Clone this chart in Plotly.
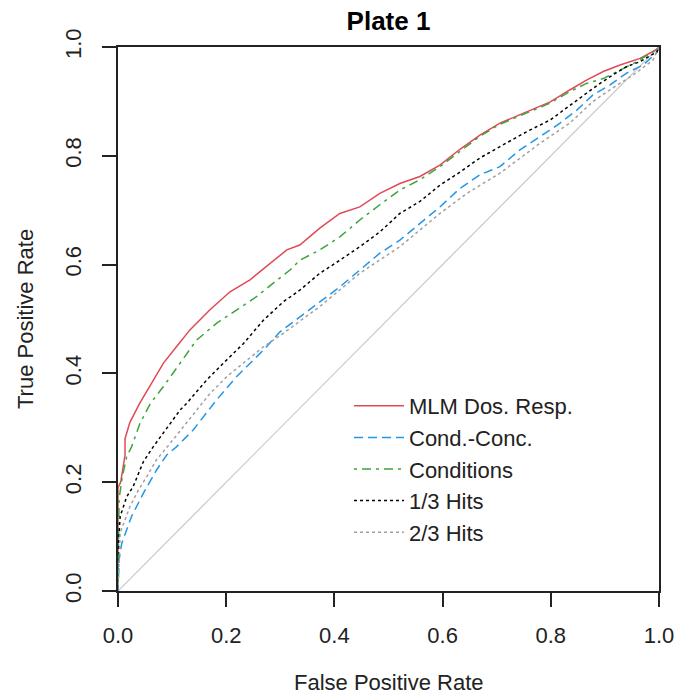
import plotly.graph_objects as go

# ---- data ----
mlm_fpr = [0, 0, 0.005, 0.013, 0.013, 0.022, 0.040, 0.065, 0.084, 0.108, 0.133, 0.170, 0.207, 0.244, 0.281, 0.312,
           0.336, 0.373, 0.410, 0.447, 0.484, 0.521, 0.558, 0.595, 0.632, 0.669, 0.706, 0.755, 0.799, 0.835,
           0.866, 0.897, 0.928, 0.965, 0.993, 1.0]
mlm_tpr = [0, 0.19, 0.20, 0.25, 0.28, 0.31, 0.345, 0.388, 0.419, 0.449, 0.480, 0.517, 0.550, 0.572, 0.602, 0.627,
           0.636, 0.667, 0.694, 0.706, 0.731, 0.749, 0.762, 0.783, 0.812, 0.838, 0.860, 0.881, 0.899, 0.921,
           0.939, 0.955, 0.967, 0.979, 0.994, 1.0]

cc_fpr = [0, 0.002, 0.007, 0.016, 0.025, 0.047, 0.071, 0.090, 0.108, 0.139, 0.164, 0.182, 0.219, 0.244, 0.269,
          0.299, 0.336, 0.373, 0.410, 0.447, 0.484, 0.521, 0.558, 0.595, 0.632, 0.669, 0.706, 0.743, 0.780,
          0.817, 0.848, 0.878, 0.909, 0.940, 0.971, 0.996, 1.0]
cc_tpr = [0, 0.057, 0.088, 0.112, 0.137, 0.180, 0.222, 0.250, 0.265, 0.296, 0.327, 0.351, 0.394, 0.419, 0.443,
          0.476, 0.504, 0.532, 0.559, 0.590, 0.621, 0.645, 0.676, 0.706, 0.740, 0.765, 0.780, 0.811, 0.835,
          0.860, 0.884, 0.912, 0.930, 0.952, 0.967, 0.990, 1.0]

cond_fpr = [0, 0.002, 0.008, 0.016, 0.025, 0.041, 0.060, 0.084, 0.115, 0.145, 0.182, 0.219, 0.256, 0.287, 0.318,
            0.336, 0.373, 0.410, 0.447, 0.484, 0.521, 0.558, 0.595, 0.632, 0.669, 0.706, 0.755, 0.799, 0.835,
            0.866, 0.897, 0.922, 0.953, 0.989, 1.0]
cond_tpr = [0, 0.17, 0.21, 0.247, 0.265, 0.309, 0.345, 0.376, 0.419, 0.461, 0.492, 0.517, 0.541, 0.566, 0.590,
            0.608, 0.627, 0.651, 0.682, 0.710, 0.737, 0.756, 0.780, 0.808, 0.836, 0.858, 0.879, 0.897, 0.918,
            0.933, 0.942, 0.955, 0.970, 0.991, 1.0]

h13_fpr = [0, 0.001, 0.004, 0.016, 0.028, 0.047, 0.065, 0.084, 0.115, 0.127, 0.164, 0.195, 0.232, 0.269, 0.306,
           0.336, 0.373, 0.410, 0.447, 0.484, 0.521, 0.558, 0.595, 0.632, 0.669, 0.706, 0.755, 0.799, 0.835,
           0.866, 0.891, 0.915, 0.940, 0.965, 0.996, 1.0]
h13_tpr = [0, 0.09, 0.137, 0.173, 0.192, 0.238, 0.265, 0.290, 0.333, 0.345, 0.388, 0.419, 0.455, 0.498, 0.532,
           0.553, 0.584, 0.608, 0.633, 0.660, 0.694, 0.716, 0.746, 0.770, 0.796, 0.817, 0.844, 0.866, 0.893,
           0.915, 0.933, 0.949, 0.964, 0.973, 0.991, 1.0]

h23_fpr = [0, 0.002, 0.004, 0.022, 0.038, 0.053, 0.071, 0.096, 0.121, 0.150, 0.170, 0.201, 0.232, 0.269, 0.306,
           0.373, 0.447, 0.521, 0.595, 0.645, 0.706, 0.780, 0.835, 0.878, 0.915, 0.953, 0.989, 1.0]
h23_tpr = [0, 0.07, 0.107, 0.155, 0.186, 0.210, 0.241, 0.271, 0.302, 0.336, 0.363, 0.394, 0.419, 0.449, 0.474,
           0.523, 0.584, 0.633, 0.694, 0.731, 0.768, 0.823, 0.860, 0.900, 0.925, 0.949, 0.976, 1.0]

diag = [0, 1]
tick_vals = [0, 0.2, 0.4, 0.6, 0.8, 1.0]
tick_text = ["0.0", "0.2", "0.4", "0.6", "0.8", "1.0"]

series = [
    ("MLM Dos. Resp.", mlm_fpr, mlm_tpr, "#DF4A56", "solid"),
    ("Cond.-Conc.", cc_fpr, cc_tpr, "#2297E6", "9px,5px"),
    ("Conditions", cond_fpr, cond_tpr, "#3DA33D", "3px,5px,9px,5px"),
    ("1/3 Hits", h13_fpr, h13_tpr, "#000000", "3px,3px"),
    ("2/3 Hits", h23_fpr, h23_tpr, "#A0A0A0", "3px,3px"),
]

FONT = "Liberation Sans, Arial, sans-serif"
FS = 22

W, H = 675, 695
ML, MT, MR, MB = 118, 47, 16, 104

fig = go.Figure()
fig.add_trace(go.Scatter(x=diag, y=diag, mode="lines", line=dict(color="#C8C8C8", width=1.2),
                         showlegend=False, hoverinfo="skip"))
for i, (name, xs, ys, col, dash) in enumerate(series):
    fig.add_trace(go.Scatter(x=xs, y=ys, mode="lines", name=name, legendgroup=f"g{i}",
                             line=dict(color=col, width=1.5, dash=dash)))

axis_common = dict(range=[0, 1], tickvals=tick_vals, ticktext=tick_text, ticks="outside", ticklen=14,
                   tickwidth=1.5, tickcolor="#222", showline=True, linecolor="#222", linewidth=1.5,
                   mirror=True, showgrid=False, zeroline=False, automargin=False,
                   tickfont=dict(family=FONT, size=FS, color="#222"))

fig.update_layout(
    width=W, height=H,
    margin=dict(l=ML, r=MR, t=MT, b=MB, autoexpand=False),
    paper_bgcolor="white", plot_bgcolor="white",
    font=dict(family=FONT, size=FS, color="#222"),
    xaxis=dict(**axis_common, ticklabelstandoff=10),
    yaxis=dict(**axis_common, tickangle=-90, ticklabelstandoff=12),
    title=dict(text="<b>Plate 1</b>", x=0.5, xref="paper", y=1 - 21 / H, yanchor="middle",
               automargin=False, font=dict(family=FONT, size=26, color="#000")),
    legend=dict(x=(349 - 118) / 541, y=(591 - 385) / 544, xanchor="left", yanchor="top",
                bgcolor="rgba(0,0,0,0)", borderwidth=0, traceorder="grouped", tracegroupgap=0,
                itemwidth=50, font=dict(family=FONT, size=FS, color="#222")),
    annotations=[
        dict(text="False Positive Rate", xref="paper", yref="paper", x=0.5, y=(591 - 682) / 544,
             xanchor="center", yanchor="middle", showarrow=False, font=dict(family=FONT, size=FS, color="#222")),
        dict(text="True Positive Rate", xref="paper", yref="paper", x=(25 - 118) / 541, y=0.5,
             xanchor="center", yanchor="middle", textangle=-90, showarrow=False,
             font=dict(family=FONT, size=FS, color="#222")),
    ],
)

# remove the browser's default body margin so the figure sits at the page origin
fig.write_html("out.html", config={"displayModeBar": False},
               post_script="document.body.style.margin='0';document.body.style.overflow='hidden';")
